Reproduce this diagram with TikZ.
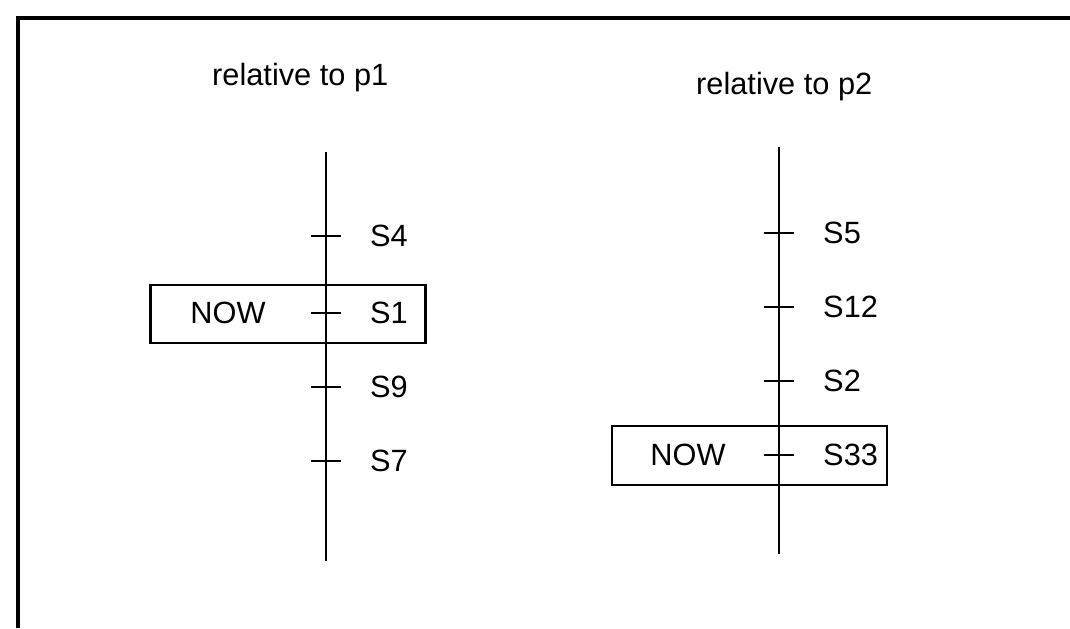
\documentclass[tikz,border=0pt]{standalone}
\usepackage{fontspec}
\setmainfont{Liberation Sans}

\begin{document}
\begin{tikzpicture}[x=0.02cm, y=-0.02cm, line width=1.4pt,
		txt/.style={inner sep=0pt, font=\fontsize{17.5}{21}\selectfont},
		lbl/.style={txt, anchor=west},
		nowbox/.style={draw, shape=rectangle, inner sep=0pt, minimum width=5.5cm, minimum height=1.17cm}]
		\useasboundingbox (0,0) rectangle (1070,628);
		% Frame:
		\draw[line width=1.8pt] (1070,18) -- (18,18) -- (18,628);
		% Paths, nodes and wires:
		\node[txt, anchor=base west] (titleA) at (211,86){relative to p1};
		\node[txt, anchor=base west] (titleB) at (695,95){relative to p2};
		\coordinate (topA) at (326,152);
		\coordinate (botA) at (326,561);
		\coordinate (topB) at (779,147);
		\coordinate (botB) at (779,554);
		\node[nowbox] (boxA) at (288,314){};
		\node[nowbox] (boxB) at (749.5,455.5){};
		\draw (topA) -- (botA);
		\draw (topB) -- (botB);
		\draw (311,236) -- (341,236);
		\draw (311,313) -- (341,313);
		\draw (311,387) -- (341,387);
		\draw (311,461) -- (341,461);
		\draw (764,233) -- (794,233);
		\draw (764,307) -- (794,307);
		\draw (764,381) -- (794,381);
		\draw (764,455) -- (794,455);
		\node[lbl] (sfour) at (369,236){S4};
		\node[lbl] (sone) at (369,313){S1};
		\node[lbl] (snine) at (369,387){S9};
		\node[lbl] (sseven) at (369,461){S7};
		\node[lbl] (sfive) at (822,233){S5};
		\node[lbl] (stwelve) at (822,307){S12};
		\node[lbl] (stwo) at (822,381){S2};
		\node[lbl] (sthirtythree) at (822,455){S33};
		\node[txt] (nowA) at (228,313){NOW};
		\node[txt] (nowB) at (688,455){NOW};
	\end{tikzpicture}
\end{document}
